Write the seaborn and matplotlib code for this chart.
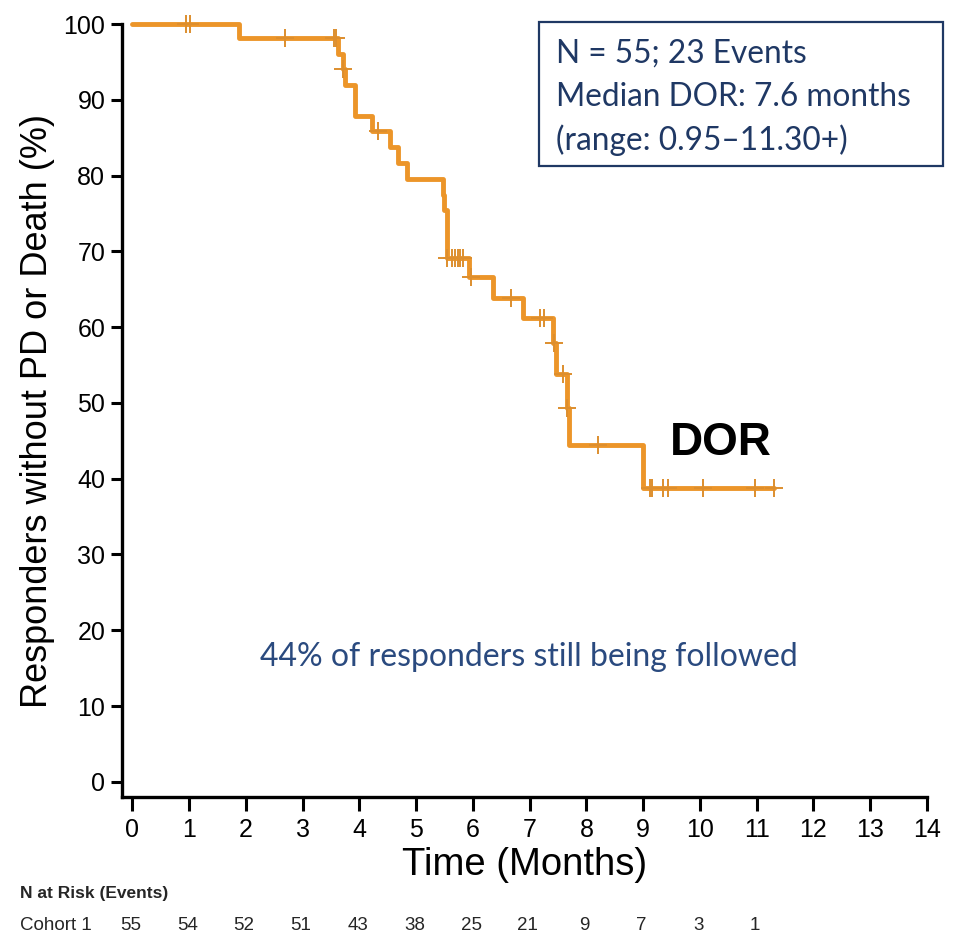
import matplotlib
matplotlib.use("Agg")
import matplotlib.pyplot as plt
import seaborn as sns
import pandas as pd
from matplotlib.patches import Rectangle

# ---- data ----
step_times = [0, 1.88, 3.63, 3.71, 3.75, 3.93, 4.22, 4.54, 4.69, 4.84, 5.47, 5.49,
              5.54, 5.93, 6.36, 6.89, 7.42, 7.46, 7.65, 7.70, 9.00, 11.30]
step_surv = [100, 98.1, 96.1, 94.1, 92.0, 87.9, 85.9, 83.8, 81.7, 79.6, 77.5, 75.4,
             69.1, 66.6, 63.9, 61.2, 57.9, 53.8, 49.3, 44.4, 38.8, 38.8]

censor_times = [0.95, 1.02, 2.69, 3.56, 3.59, 3.72, 4.33, 5.55, 5.63, 5.68, 5.73, 5.78,
                5.82, 5.96, 6.68, 7.19, 7.25, 7.43, 7.59, 7.66, 8.21, 9.12, 9.16, 9.35,
                9.44, 10.05, 10.97, 11.30]
censor_surv = [100, 100, 98.1, 98.1, 98.1, 94.1, 85.9, 69.1, 69.1, 69.1, 69.1, 69.1,
               69.1, 66.6, 63.9, 61.2, 61.2, 57.9, 53.8, 49.3, 44.4, 38.8, 38.8, 38.8,
               38.8, 38.8, 38.8, 38.8]

risk_months = [0, 1, 2, 3, 4, 5, 6, 7, 8, 9, 10, 11]
risk_counts = [55, 54, 52, 51, 43, 38, 25, 21, 9, 7, 3, 1]

x_ticks = list(range(0, 15))
y_ticks = list(range(0, 101, 10))

box_lines = ["N = 55; 23 Events", "Median DOR: 7.6 months", "(range: 0.95\u201311.30+)"]
note_text = "44% of responders still being followed"
curve_label = "DOR"

# ---- styling ----
sns.set_theme(style="ticks")
plt.rcParams["font.family"] = ["Liberation Sans", "DejaVu Sans"]

W, H = 957, 938
fig = plt.figure(figsize=(W / 100, H / 100), dpi=100)
ax = fig.add_axes([122 / W, 1 - 797 / H, (927 - 122) / W, (797 - 24) / H])

orange = "#EC9529"
curve_df = pd.DataFrame({"t": step_times, "s": step_surv})
sns.lineplot(data=curve_df, x="t", y="s", ax=ax, drawstyle="steps-post",
             estimator=None, sort=False, color=orange, linewidth=3.5,
             clip_on=False, zorder=3)
cens_df = pd.DataFrame({"t": censor_times, "s": censor_surv})
sns.scatterplot(data=cens_df, x="t", y="s", ax=ax, marker="+", s=180,
                color="#DD8E2E", linewidth=1.4, clip_on=False, zorder=4)

ax.set_xlim(-0.18, 14)
ax.set_ylim(-2, 100)
ax.set_xticks(x_ticks)
ax.set_yticks(y_ticks)
ax.tick_params(axis="both", labelsize=18, width=2.2, length=8, color="black",
               labelcolor="black")
ax.tick_params(axis="x", length=10, pad=5)
ax.tick_params(axis="y", pad=4)
for side in ["left", "bottom"]:
    ax.spines[side].set_linewidth(2.4)
    ax.spines[side].set_color("black")
for side in ["top", "right"]:
    ax.spines[side].set_visible(False)

ax.set_xlabel("Time (Months)", fontsize=27.5, labelpad=4, color="black")
ax.set_ylabel("Responders without PD or Death (%)", fontsize=26, labelpad=6,
              color="black")

# DOR label
ax.text(9.47, 44.7, curve_label, fontsize=33, fontweight="bold", color="black",
        ha="left", va="center")

# note
navy = "#1F3864"
ax.text(6.99, 16.5, note_text, fontsize=23, color="#2A4A7F", ha="center",
        va="center", family=["Lato", "DejaVu Sans"])

# info box
fig.patches.append(Rectangle((539 / W, 1 - 166 / H), 404 / W, 144 / H,
                             fill=False, edgecolor=navy, linewidth=1.6,
                             transform=fig.transFigure))
for i, line in enumerate(box_lines):
    fig.text(556 / W, 1 - (54 + 43 * i) / H, line, fontsize=22.8, color=navy,
             ha="left", va="center", family=["Lato", "DejaVu Sans"])

# risk table
narrow = ["Liberation Sans Narrow", "Liberation Sans", "DejaVu Sans"]
fig.text(20 / W, 1 - 893 / H, "N at Risk (Events)", fontsize=12.5, fontweight="bold",
         ha="left", va="center", family=narrow)
fig.text(20 / W, 1 - 925 / H, "Cohort 1", fontsize=13.5, ha="left", va="center",
         family=narrow)
trans = matplotlib.transforms.blended_transform_factory(ax.transData, fig.transFigure)
for m, c in zip(risk_months, risk_counts):
    ax.text(m - 0.03, 1 - 925 / H, str(c), transform=trans, fontsize=13.5,
            ha="center", va="center", family=narrow, clip_on=False)

fig.savefig("out.png", dpi=100)
